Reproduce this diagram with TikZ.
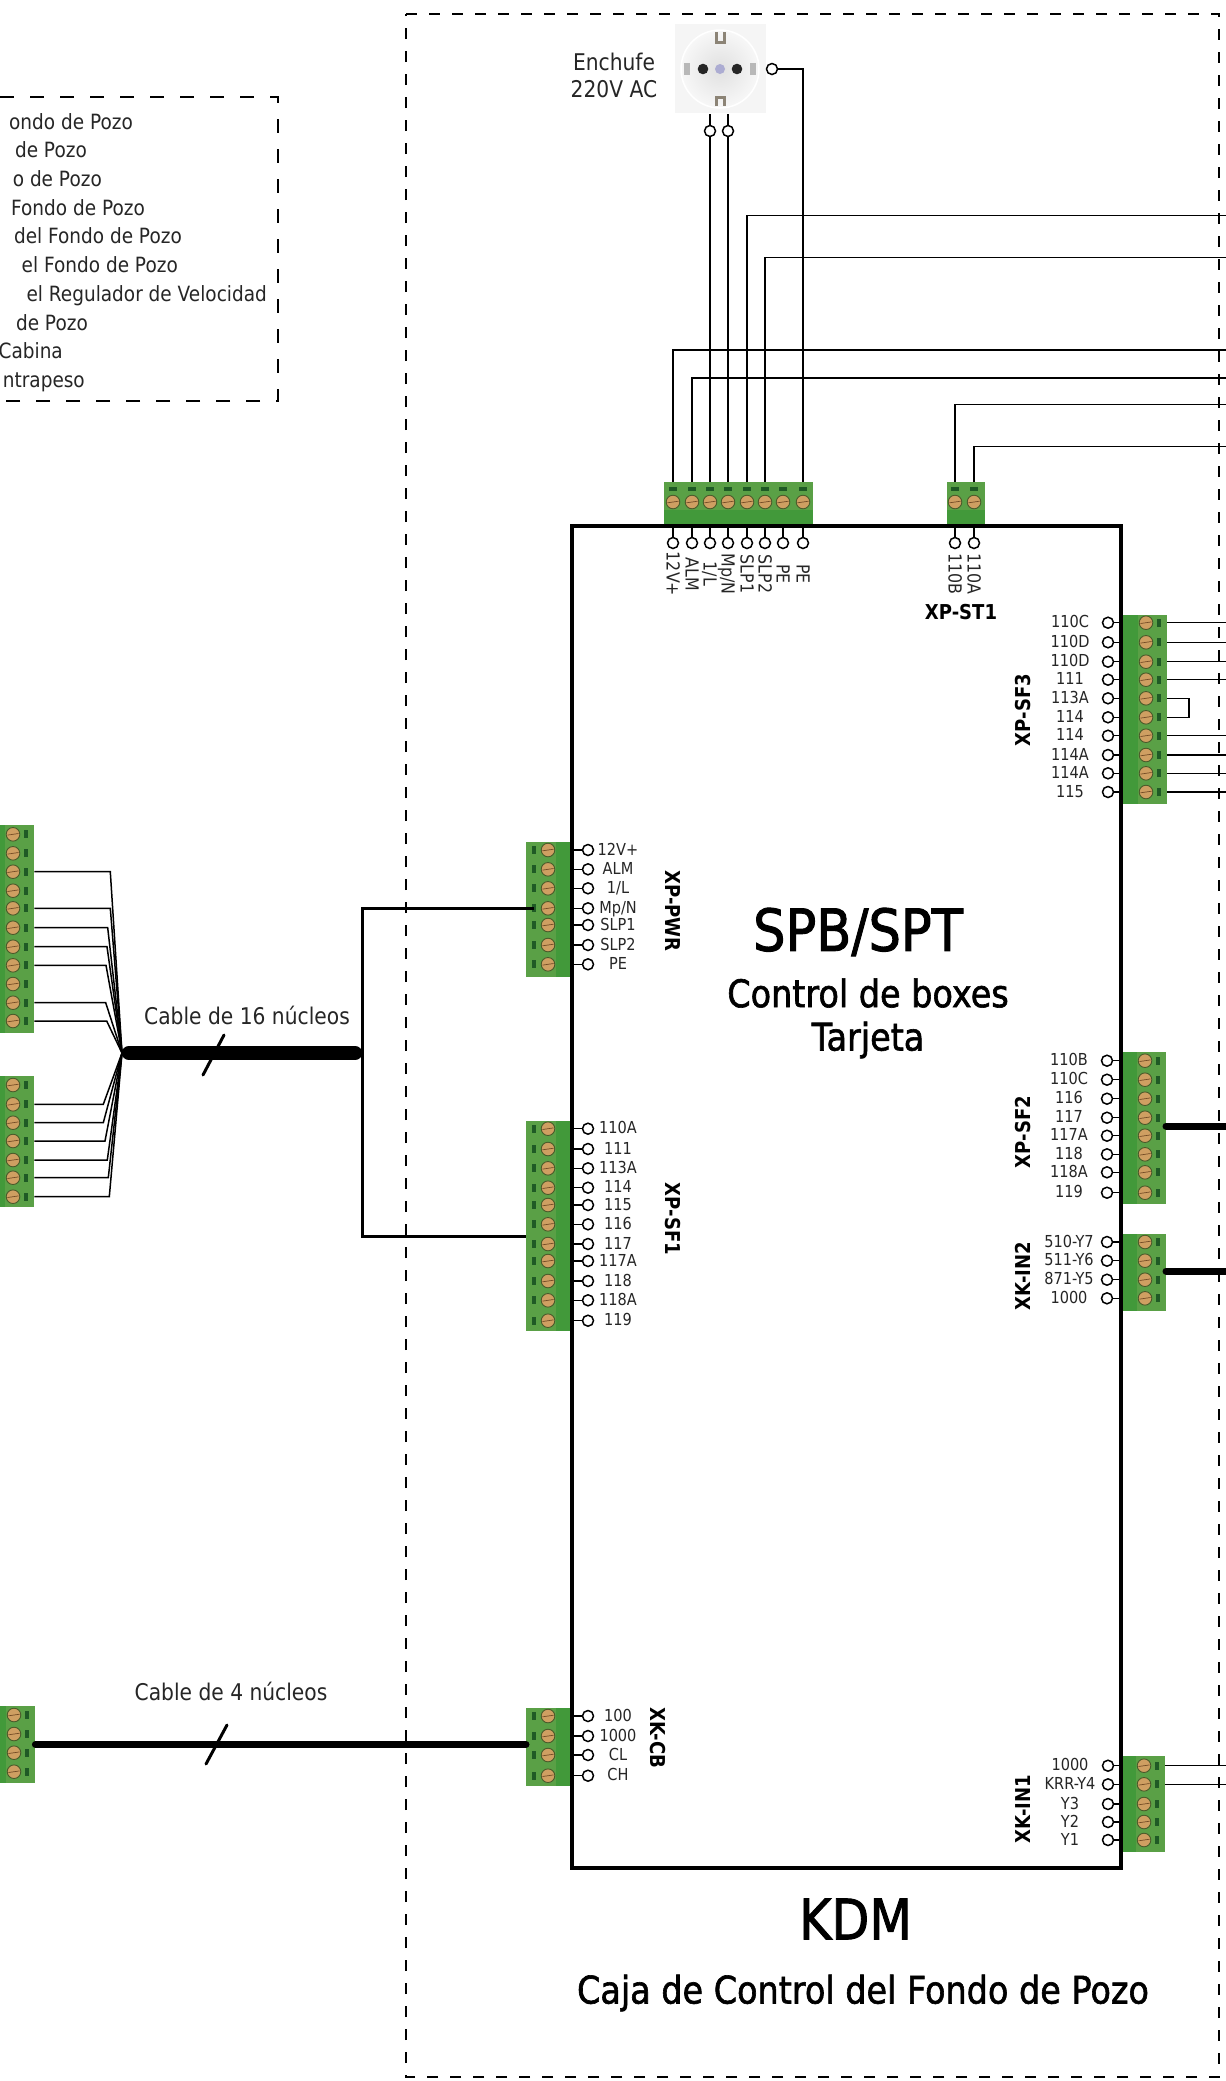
\documentclass[tikz,border=0pt]{standalone}
\usepackage{fontspec}
\setmainfont[FakeStretch=0.88]{DejaVu Sans}
\newfontfamily\titlefont[FakeStretch=0.88,FakeBold=1.6]{DejaVu Sans}
\usepackage{tikz}
\definecolor{blockgreen}{HTML}{5AA046}
\definecolor{bandgreen}{HTML}{42993A}
\definecolor{markgreen}{HTML}{1F5A25}
\definecolor{screwtan}{HTML}{CF9F62}
\definecolor{screwedge}{HTML}{4A5A2A}
\definecolor{plugmetal}{HTML}{8C8476}
\tikzset{
  wire/.style={black,line width=1.5pt},
  lead/.style={black,line width=1.5pt},
  cable/.style={black,line width=7pt,line cap=round},
  bigcable/.style={black,line width=14.5pt,line cap=round,shorten <=7pt,shorten >=7pt},
  slash/.style={black,line width=3pt,line cap=round},
  outerdash/.style={black,line width=1.3pt,dash pattern=on 11pt off 12pt},
  legenddash/.style={black,line width=1.3pt,dash pattern=on 14pt off 16pt},
  pinhole/.style={circle,draw=black,line width=1.5pt,fill=white,inner sep=0pt,minimum size=11pt},
  pintext/.style={inner sep=0pt,font=\fontsize{16.5}{16.5}\selectfont,text height=12pt,text depth=0pt,text=black!85},
  toptext/.style={pintext,font=\fontsize{18}{18}\selectfont,text height=13pt,rotate=-90},
  blocktag/.style={inner sep=0pt,font=\fontsize{20.5}{20.5}\selectfont\bfseries,text height=15pt,text depth=0pt},
  plaintext/.style={inner sep=0pt,font=\fontsize{23}{27}\selectfont,text=black!85},
  legendtext/.style={plaintext,font=\fontsize{21}{21}\selectfont,anchor=east,text height=15.5pt,text depth=4.5pt,yshift=-1pt},
  greenblock/.style={fill=blockgreen,draw=none,inner sep=0pt,minimum width=#1},
  screw/.pic={
    \fill[screwtan,draw=screwedge,line width=0.9pt] (0,0) circle (6.8);
    \draw[brown!60!black,line width=0.7pt] (-5.5,0.8) -- (5.5,-0.8);
  }
}
\newcommand{\blockright}[4]{
  \node[greenblock=44pt,minimum height=#4-#3,anchor=north west] (#1) at (#2,#3) {};
  \fill[bandgreen] (#1.north west) rectangle ([xshift=15pt]#1.south west);
}
\newcommand{\blockleft}[4]{
  \node[greenblock=45pt,minimum height=#4-#3,anchor=north west] (#1) at (#2,#3) {};
  \fill[bandgreen] (#1.north east) rectangle ([xshift=-15pt]#1.south east);
}
\newcommand{\screwsright}[3]{
  \foreach \py [count=\i] in {#3} {
    \coordinate (#1-\i) at (#2+36,\py);
    \pic at (#2+23,\py) {screw};
    \fill[markgreen] (#2+34,\py-4) rectangle (#2+38,\py+4);
  }
}
\newcommand{\screwsleft}[3]{
  \foreach \py [count=\i] in {#3} {
    \coordinate (#1-\i) at (#2+8,\py);
    \pic at (#2+22,\py) {screw};
    \fill[markgreen] (#2+6,\py-4) rectangle (#2+10,\py+4);
  }
}
\newcommand{\pinsright}[3]{
  \foreach \py/\ptext [count=\i] in {#3} {
    \node[pinhole] (#1-p\i) at (#2,\py) {};
    \draw[lead] (#1-p\i.east) -- ++(9,0);
    \node[pintext] at (#2-38,\py-1) {\ptext};
  }
}
\newcommand{\pinsleft}[3]{
  \foreach \py/\ptext [count=\i] in {#3} {
    \node[pinhole] (#1-p\i) at (#2,\py) {};
    \draw[lead] (#1-p\i.west) -- ++(-9,0);
    \node[pintext] at (#2+30,\py-1) {\ptext};
  }
}
\begin{document}
\begin{tikzpicture}[x=1pt,y=-1pt]
  \useasboundingbox (0,0) rectangle (1226,2081);
  \coordinate (edge) at (1226,0);
  \coordinate (hub) at (122,1053);
  \coordinate (split) at (362,1053);
  \fill[white] (0,0) rectangle (1226,2081);

  \draw[outerdash] (406,14) -- (1219,14) -- (1219,2077) -- (406,2077) -- cycle;
  \draw[legenddash] (0,97) -- (278,97) -- (278,401) -- (0,401);
  \node[legendtext] at (133,122.7) {ondo de Pozo};
  \node[legendtext] at (87,151.3) {de Pozo};
  \node[legendtext] at (102,180) {o de Pozo};
  \node[legendtext] at (145,209) {Fondo de Pozo};
  \node[legendtext] at (182,237.3) {del Fondo de Pozo};
  \node[legendtext] at (178,266) {el Fondo de Pozo};
  \node[legendtext] at (267,295) {el Regulador de Velocidad};
  \node[legendtext] at (88,324) {de Pozo};
  \node[legendtext] at (63,352.3) {Cabina};
  \node[legendtext] at (85,381) {ntrapeso};

  \fill[black!4] (675,24) rectangle (766,113);
  \shade[inner color=black!12,outer color=black!3] (720,69) circle (39);
  \draw[white,line width=1.5pt] (720,69) circle (39);
  \fill[black!28] (684,63) rectangle (690,75);
  \fill[black!28] (750,63) rectangle (756,75);
  \fill[black!85] (703,69) circle (5.3);
  \fill[black!85] (737,69) circle (5.3);
  \fill[gray!70!blue!50] (720,69) circle (5);
  \draw[plugmetal,line width=3pt] (716,32) -- (716,42) -- (724,42) -- (724,32);
  \draw[plugmetal,line width=3pt] (716,106) -- (716,97) -- (724,97) -- (724,106);
  \node[plaintext,align=center] (plug) at (614,75) {Enchufe\\220V AC};
  \node[pinhole] (plugpe) at (772,69) {};
  \node[pinhole] (plugl) at (710,131) {};
  \node[pinhole] (plugn) at (728,131) {};

  \node[greenblock=149pt,minimum height=44pt,anchor=north west] (xppins) at (664,482) {};
  \fill[bandgreen] (664,510) rectangle (813,526);
  \node[greenblock=38pt,minimum height=44pt,anchor=north west] (xpst) at (947,482) {};
  \fill[bandgreen] (947,510) rectangle (985,526);
  \foreach \px [count=\i] in {673,692,710,728,747,765,783,803} {
    \coordinate (xppins-\i) at (\px,482);
    \pic at (\px,502) {screw};
    \fill[markgreen] (\px-4,487) rectangle (\px+4,491);
  }
  \foreach \px [count=\i] in {955,974} {
    \coordinate (xpst-\i) at (\px,482);
    \pic at (\px,502) {screw};
    \fill[markgreen] (\px-4,487) rectangle (\px+4,491);
  }

  \draw[wire] (plugpe.east) -| (xppins-8);
  \draw[wire] (plugl.south) -- (xppins-3);
  \draw[wire] (plugn.south) -- (xppins-4);
  \draw[wire] (plugl.north) -- ++(0,-11);
  \draw[wire] (plugn.north) -- ++(0,-11);
  \draw[wire] (xppins-1) |- (1226,350);
  \draw[wire] (xppins-2) |- (1226,378);
  \draw[wire] (xppins-5) |- (1226,215.5);
  \draw[wire] (xppins-6) |- (1226,257.5);
  \draw[wire] (xpst-1) |- (1226,404.5);
  \draw[wire] (xpst-2) |- (1226,446.5);

  \blockright{xpsfr}{1123}{615}{804}
  \screwsright{xpsfr}{1123}{622.7,642.3,661.7,679.7,698.3,717.3,735.7,755,773.3,792}
  \blockright{xpsfd}{1122}{1052}{1204}
  \screwsright{xpsfd}{1122}{1060.7,1079.7,1098.7,1117.7,1135.7,1154.3,1172.3,1192.7}
  \blockright{xkind}{1122}{1234}{1311}
  \screwsright{xkind}{1122}{1242,1260.7,1279.7,1298.3}
  \blockright{xkinu}{1121}{1756}{1852}
  \screwsright{xkinu}{1121}{1765.7,1784.3,1804,1822,1840}

  \blockleft{xppwr}{526}{842}{977}
  \screwsleft{xppwr}{526}{850,869.3,888.3,908.3,925,945,964.3}
  \blockleft{xpsfu}{526}{1121}{1331}
  \screwsleft{xpsfu}{526}{1128.7,1149,1168.3,1187.7,1205,1224.3,1244,1261,1281,1300.3,1320.7}
  \blockleft{xkcb}{526}{1708}{1786}
  \screwsleft{xkcb}{526}{1716,1736,1755,1775.7}

  \blockright{lefta}{-10}{825}{1033}
  \screwsright{lefta}{-10}{834.3,853.3,871.7,890.7,908.3,927.7,946.7,965.3,984,1002.7,1021}
  \blockright{leftb}{-10}{1076}{1207}
  \screwsright{leftb}{-10}{1085,1104.3,1122.7,1141,1160,1177.7,1196.7}
  \blockright{leftc}{-9}{1706}{1783}
  \screwsright{leftc}{-9}{1715,1734,1752.7,1771.7}

  \draw[line width=3.5pt,black] (572,526) rectangle (1121,1868);

  \foreach \i in {1,2,3,4,7,8,9,10} {
    \draw[wire] (xpsfr-\i -| xpsfr.east) -- (xpsfr-\i -| edge);
  }
  \draw[wire] (xpsfr-5 -| xpsfr.east) -- (1189,698.3) -- (1189,717.3) -- (xpsfr-6 -| xpsfr.east);
  \foreach \i in {1,2} {
    \draw[wire] (xkinu-\i -| xkinu.east) -- (xkinu-\i -| edge);
  }
  \draw[cable] (1166,1126) -- (1226,1126);
  \draw[cable] (1166,1271) -- (1226,1271);

  \foreach \i/\bend in {3/110.3,5/110.3,6/107.7,7/107,8/106,10/105.7,11/106.7} {
    \draw[wire] (lefta-\i -| lefta.east) -- (\bend,0 |- lefta-\i) -- (hub);
  }
  \foreach \i/\bend in {2/103.3,3/103.3,4/105,5/107.3,6/108.3,7/109.3} {
    \draw[wire] (leftb-\i -| leftb.east) -- (\bend,0 |- leftb-\i) -- (hub);
  }
  \draw[bigcable] (hub) -- (split);
  \draw[slash] (224,1035) -- (203,1075);
  \node[plaintext] (cablebig) at (247,1015) {Cable de 16 núcleos};
  \draw[line width=3pt,black] (xppwr-4) -| (split) |- (xpsfu.west |- 362,1236);

  \draw[cable] (leftc.east |- 34,1744.5) -- (xkcb.west |- 34,1744.5);
  \draw[slash] (227,1725) -- (206,1764);
  \node[plaintext] (cablesmall) at (231,1691) {Cable de 4 núcleos};

  \foreach \px/\ptext [count=\i] in {673/12V+,692/ALM,710/{1/L},728/{Mp/N},747/SLP1,765/SLP2,783/PE,803/PE} {
    \node[pinhole] (xppins-p\i) at (\px,543) {};
    \draw[lead] (xppins-p\i.north) -- ++(0,-9);
    \node[toptext] at (\px,574) {\ptext};
  }
  \foreach \px/\ptext [count=\i] in {955/110B,974/110A} {
    \node[pinhole] (xpst-p\i) at (\px,543) {};
    \draw[lead] (xpst-p\i.north) -- ++(0,-9);
    \node[toptext] at (\px,574) {\ptext};
  }
  \node[blocktag] at (961,612) {XP-ST1};

  \pinsright{xpsfr}{1108}{622.7/110C,642.3/110D,661.7/110D,679.7/111,698.3/113A,717.3/114,735.7/114,755/114A,773.3/114A,792/115}
  \node[blocktag,rotate=90] at (1023,710) {XP-SF3};
  \pinsright{xpsfd}{1107}{1060.7/110B,1079.7/110C,1098.7/116,1117.7/117,1135.7/117A,1154.3/118,1172.3/118A,1192.7/119}
  \node[blocktag,rotate=90] at (1023,1132) {XP-SF2};
  \pinsright{xkind}{1107}{1242/510-Y7,1260.7/511-Y6,1279.7/871-Y5,1298.3/1000}
  \node[blocktag,rotate=90] at (1023,1276) {XK-IN2};
  \pinsright{xkinu}{1108}{1765.7/1000,1784.3/KRR-Y4,1804/Y3,1822/Y2,1840/Y1}
  \node[blocktag,rotate=90] at (1023,1809) {XK-IN1};

  \pinsleft{xppwr}{588}{850/12V+,869.3/ALM,888.3/{1/L},908.3/{Mp/N},925/SLP1,945/SLP2,964.3/PE}
  \node[blocktag,rotate=-90] at (673,911) {XP-PWR};
  \pinsleft{xpsfu}{588}{1128.7/110A,1149/111,1168.3/113A,1187.7/114,1205/115,1224.3/116,1244/117,1261/117A,1281/118,1300.3/118A,1320.7/119}
  \node[blocktag,rotate=-90] at (673,1219) {XP-SF1};
  \pinsleft{xkcb}{588}{1716/100,1736/1000,1755/CL,1775.7/CH}
  \node[blocktag,rotate=-90] at (658,1738) {XK-CB};

  \node[inner sep=0pt,font=\fontsize{58}{58}\titlefont] (spb) at (858,932) {SPB/SPT};
  \node[inner sep=0pt,font=\fontsize{38}{38}\titlefont] (control) at (868,993) {Control de boxes};
  \node[inner sep=0pt,font=\fontsize{38}{38}\titlefont] (tarjeta) at (868,1040) {Tarjeta};
  \node[inner sep=0pt,font=\fontsize{56}{56}\titlefont] (kdm) at (855.5,1919) {KDM};
  \node[inner sep=0pt,font=\fontsize{38}{38}\titlefont] (caja) at (863,1993) {Caja de Control del Fondo de Pozo};
\end{tikzpicture}
\end{document}
